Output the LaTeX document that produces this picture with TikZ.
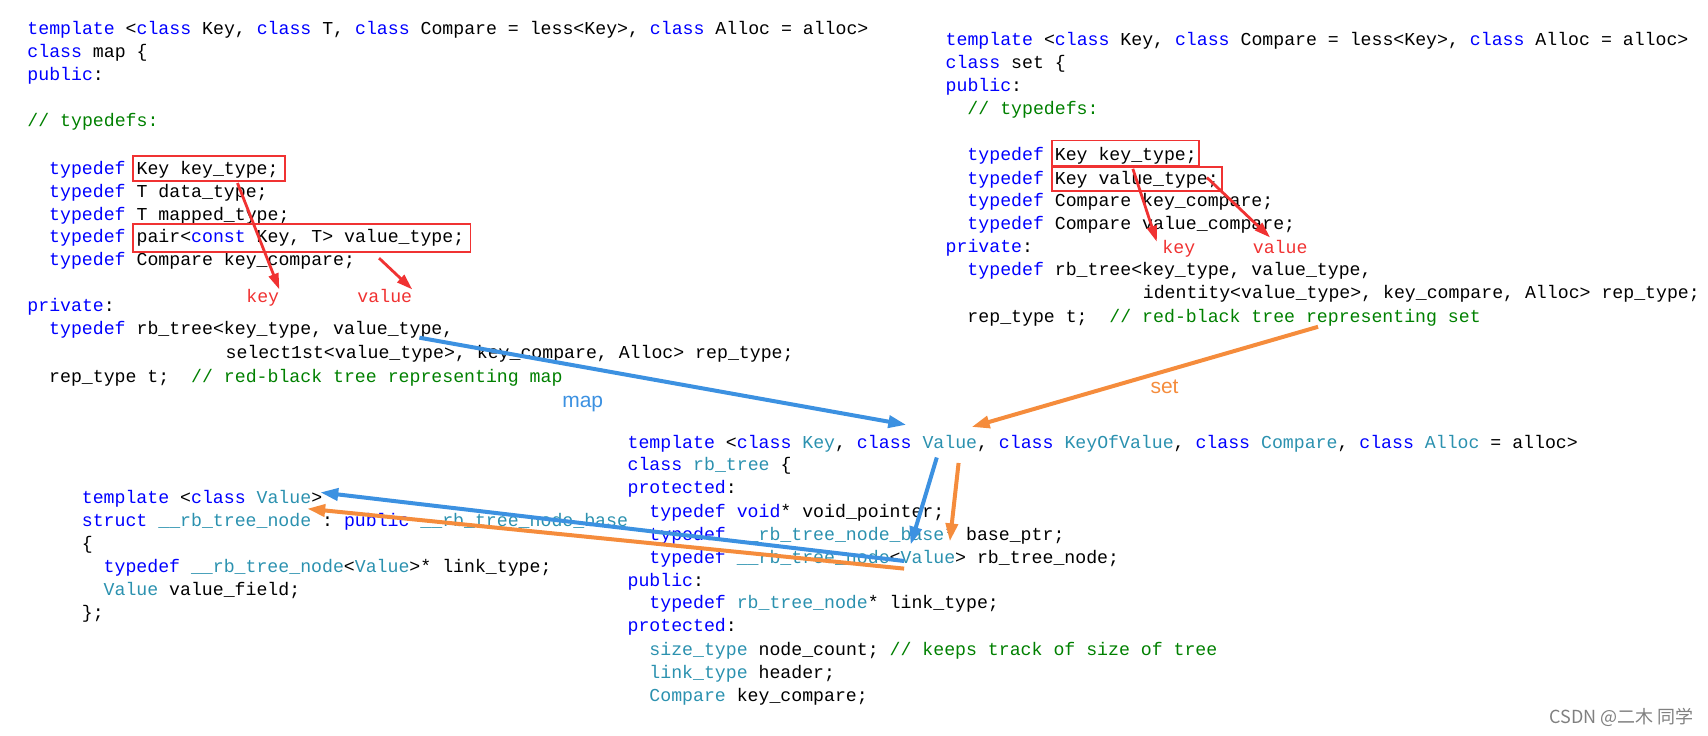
\documentclass[tikz,border=0pt]{standalone}
\usepackage{fontspec}
\setmonofont{Liberation Mono}
\setsansfont{Liberation Sans}
\newfontfamily\cjk{Noto Sans CJK SC}
\usetikzlibrary{arrows.meta}
\definecolor{kwc}{RGB}{0,0,255}
\definecolor{tyc}{RGB}{43,145,175}
\definecolor{cmc}{RGB}{0,128,0}
\definecolor{redc}{RGB}{240,50,50}
\definecolor{bluea}{RGB}{60,145,225}
\definecolor{orna}{RGB}{245,140,60}
\newcommand{\kw}[1]{\textcolor{kwc}{#1}}
\newcommand{\ty}[1]{\textcolor{tyc}{#1}}
\newcommand{\cm}[1]{\textcolor{cmc}{#1}}
\begin{document}
\begin{tikzpicture}[x=1.0893pt,y=-1.0893pt,
  code/.style={anchor=base west,inner sep=0pt,font=\ttfamily\fontsize{18.2}{22}\selectfont},
  lbl/.style={anchor=base west,inner sep=0pt,font=\ttfamily\fontsize{18.2}{22}\selectfont,text=redc},
  big/.style={anchor=base west,inner sep=0pt,font=\sffamily\fontsize{21}{25}\selectfont},
  box/.style={draw=redc,line width=1.8pt},
  red/.style={draw=redc,line width=2.8pt,-{Triangle[length=16pt,width=10pt]}},
  blu/.style={draw=bluea,line width=4pt,-{Triangle[length=18pt,width=12pt]}},
  orn/.style={draw=orna,line width=4pt,-{Triangle[length=18pt,width=12pt]}}]
\useasboundingbox (0,0) rectangle (1568,675);
% map
\node[code] (m1) at (25,32) {\kw{template} <\kw{class} Key, \kw{class} T, \kw{class} Compare = less<Key>, \kw{class} Alloc = alloc>};
\node[code] (m2) at (25,53) {\kw{class} map \{};
\node[code] (m3) at (25,74) {\kw{public}:};
\node[code] (m4) at (25,116) {\cm{// typedefs:}};
\node[code] (m5) at (45,160) {\kw{typedef} Key key\_type;};
\node[code] (m6) at (45,181) {\kw{typedef} T data\_type;};
\node[code] (m7) at (45,202) {\kw{typedef} T mapped\_type;};
\node[code] (m8) at (45,223) {\kw{typedef} pair<\kw{const} Key, T> value\_type;};
\node[code] (m9) at (45,244) {\kw{typedef} Compare key\_compare;};
\node[code] (m10) at (25,286) {\kw{private}:};
\node[code] (m11) at (45,307) {\kw{typedef} rb\_tree<key\_type, value\_type,};
\node[code] (m12) at (207,329) {select1st<value\_type>, key\_compare, Alloc> rep\_type;};
\node[code] (m13) at (45,351) {rep\_type t;~~\cm{// red-black tree representing map}};
\draw[box] (122,143) rectangle (262,166);
\draw[box] (122,206) rectangle (432,231);
\node[lbl] (mk) at (226,278) {key};
\node[lbl] (mv) at (328,278) {value};
\coordinate (mk0) at (218,168);
\coordinate (mv0) at (348,237);
\draw[red] (mk0) -- (mk.north east);
\draw[red] (mv0) -- (mv.north east);
% set
\node[code] (s1) at (868,42) {\kw{template} <\kw{class} Key, \kw{class} Compare = less<Key>, \kw{class} Alloc = alloc>};
\node[code] (s2) at (868,63) {\kw{class} set \{};
\node[code] (s3) at (868,84) {\kw{public}:};
\node[code] (s4) at (888,105) {\cm{// typedefs:}};
\node[code] (s5) at (888,147) {\kw{typedef} Key key\_type;};
\node[code] (s6) at (888,169) {\kw{typedef} Key value\_type;};
\node[code] (s7) at (888,190) {\kw{typedef} Compare key\_compare;};
\node[code] (s8) at (888,211) {\kw{typedef} Compare value\_compare;};
\node[code] (s9) at (868,232) {\kw{private}:};
\node[code] (s10) at (888,253) {\kw{typedef} rb\_tree<key\_type, value\_type,};
\node[code] (s11) at (1049,274) {identity<value\_type>, key\_compare, Alloc> rep\_type;};
\node[code] (s12) at (888,296) {rep\_type t;~~\cm{// red-black tree representing set}};
\draw[box] (966,129) rectangle (1101,152);
\draw[box] (966,153) rectangle (1122,175);
\node[lbl] (sk) at (1067,233) {key};
\node[lbl] (sv) at (1150,233) {value};
\coordinate (sk0) at (1040,155);
\coordinate (sv0) at (1108,163);
\draw[red] (sk0) -- (1062,222);
\draw[red] (sv0) -- (1166,218);
% rb_tree
\node[code] (r1) at (576,412) {\kw{template} <\kw{class} \ty{Key}, \kw{class} \ty{Value}, \kw{class} \ty{KeyOfValue}, \kw{class} \ty{Compare}, \kw{class} \ty{Alloc} = alloc>};
\node[code] (r2) at (576,432) {\kw{class} \ty{rb\_tree} \{};
\node[code] (r3) at (576,453) {\kw{protected}:};
\node[code] (r4) at (596,475) {\kw{typedef} \kw{void}* void\_pointer;};
\node[code] (r5) at (596,496) {\kw{typedef} \ty{\_\_rb\_tree\_node\_base}* base\_ptr;};
\node[code] (r6) at (596,517) {\kw{typedef} \ty{\_\_rb\_tree\_node}<\ty{Value}> rb\_tree\_node;};
\node[code] (r7) at (576,538) {\kw{public}:};
\node[code] (r8) at (596,559) {\kw{typedef} \ty{rb\_tree\_node}* link\_type;};
\node[code] (r9) at (576,580) {\kw{protected}:};
\node[code] (r10) at (596,602) {\ty{size\_type} node\_count; \cm{// keeps track of size of tree}};
\node[code] (r11) at (596,623) {\ty{link\_type} header;};
\node[code] (r12) at (596,644) {\ty{Compare} key\_compare;};
% node
\node[code] (n1) at (75,462) {\kw{template} <\kw{class} \ty{Value}>};
\node[code] (n2) at (75,483) {\kw{struct} \ty{\_\_rb\_tree\_node} : \kw{public} \ty{\_\_rb\_tree\_node\_base}};
\node[code] (n3) at (75,504) {\{};
\node[code] (n4) at (95,526) {\kw{typedef} \ty{\_\_rb\_tree\_node}<\ty{Value}>* link\_type;};
\node[code] (n5) at (95,547) {\ty{Value} value\_field;};
\node[code] (n6) at (75,568) {\};};
% big arrows
\node[big,text=bluea] (lmap) at (516,374) {map};
\node[big,text=orna] (lset) at (1056,361) {set};
\coordinate (ma0) at (385,310);
\coordinate (ma1) at (832,390);
\coordinate (sa0) at (1210,300);
\coordinate (sa1) at (892,392);
\draw[blu] (ma0) -- (ma1);
\draw[orn] (sa0) -- (sa1);
\coordinate (b0) at (860,420); \coordinate (b1) at (836,500);
\coordinate (o0) at (880,425); \coordinate (o1) at (872,497);
\draw[blu] (b0) -- (b1);
\draw[orn] (o0) -- (o1);
\coordinate (b2) at (830,515); \coordinate (b3) at (294,452);
\coordinate (o2) at (830,522); \coordinate (o3) at (282,467);
\draw[blu] (b2) -- (b3);
\draw[orn] (o2) -- (o3);
\node[anchor=base east,inner sep=0pt,font=\cjk\fontsize{18}{22}\selectfont,text=gray] (wm) at (1555,664) {CSDN @二木 同学};
\end{tikzpicture}
\end{document}
